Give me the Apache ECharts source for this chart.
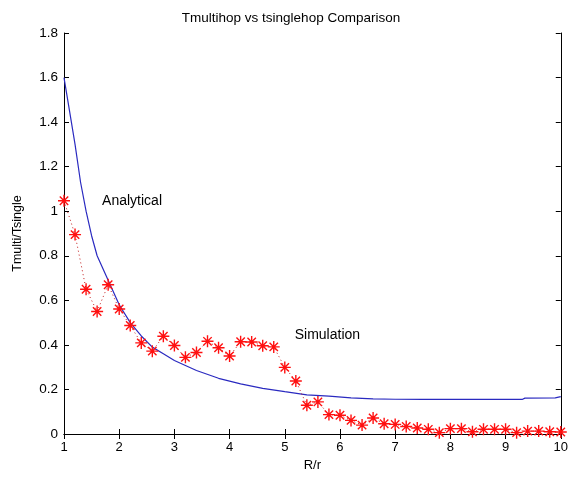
<!DOCTYPE html>
<html><head><meta charset="utf-8">
<script src="https://cdn.jsdelivr.net/npm/echarts@6/dist/echarts.min.js"></script>
<style>html,body{margin:0;padding:0;background:#fff}#c{width:571px;height:477px}</style>
</head><body><div id="c"></div>
<script>
var xTicks = [1,2,3,4,5,6,7,8,9,10];
var yTicks = [0,0.2,0.4,0.6,0.8,1,1.2,1.4,1.6,1.8];

var simX = [1,1.2,1.4,1.6,1.8,2,2.2,2.4,2.6,2.8,3,3.2,3.4,3.6,3.8,4,4.2,4.4,4.6,4.8,5,5.2,5.4,5.6,5.8,6,6.2,6.4,6.6,6.8,7,7.2,7.4,7.6,7.8,8,8.2,8.4,8.6,8.8,9,9.2,9.4,9.6,9.8,10];
var simY = [1.047,0.895,0.65,0.55,0.67,0.561,0.487,0.409,0.372,0.439,0.397,0.344,0.366,0.416,0.387,0.35,0.414,0.413,0.396,0.391,0.299,0.238,0.129,0.144,0.087,0.084,0.061,0.04,0.072,0.046,0.043,0.034,0.027,0.021,0.006,0.024,0.024,0.01,0.021,0.021,0.021,0.006,0.013,0.013,0.01,0.009];

var anaX = [1,1.1,1.2,1.3,1.4,1.5,1.6,1.8,2,2.2,2.4,2.6,2.8,3,3.4,3.8,4.2,4.6,5,5.4,5.8,6.2,6.6,7,7.5,8,8.5,9,9.3,9.35,9.9,10];
var anaY = [1.60,1.45,1.30,1.13,1.0,0.89,0.80,0.69,0.58,0.50,0.44,0.39,0.36,0.33,0.285,0.25,0.225,0.205,0.19,0.176,0.17,0.162,0.158,0.156,0.155,0.155,0.155,0.155,0.155,0.161,0.162,0.168];

var labels = [
  {text:'Analytical', x:1.69, y:1.04},
  {text:'Simulation', x:5.18, y:0.44}
];

function pairs(xs, ys){ return xs.map(function(v,i){return [v, ys[i]];}); }

var chart = echarts.init(document.getElementById('c'));
var font = 'Liberation Sans, Arial, sans-serif';
var axisCommon = {
  axisLine:{show:true,lineStyle:{color:'#000',width:1}},
  axisTick:{show:true,inside:true,length:5,lineStyle:{color:'#000'}},
  splitLine:{show:false}
};
var star = 'path://M0,-10L0,10M-10,0L10,0M-7,-7L7,7M-7,7L7,-7';
chart.setOption({
  animation:false,
  title:{text:'Tmultihop vs tsinglehop Comparison',left:286,top:6,textAlign:'center',
    textStyle:{fontFamily:font,fontSize:13.5,fontWeight:'normal',color:'#000'}},
  grid:{left:64,right:9,top:33,bottom:39},
  xAxis:[
    Object.assign({type:'value',min:1,max:10,interval:1,position:'bottom',
      name:'R/r',nameLocation:'middle',nameGap:25,
      nameTextStyle:{fontFamily:font,fontSize:13,color:'#000'},
      axisLabel:{fontFamily:font,fontSize:13,color:'#000',margin:7,
        formatter:function(v){return String(v);}}}, axisCommon),
    Object.assign({type:'value',min:1,max:10,interval:1,position:'top',axisLabel:{show:false}}, axisCommon)
  ],
  yAxis:[
    Object.assign({type:'value',min:0,max:1.8,interval:0.2,position:'left',
      name:'Tmulti/Tsingle',nameLocation:'middle',nameGap:40,
      nameTextStyle:{fontFamily:font,fontSize:12.5,color:'#000'},
      axisLabel:{fontFamily:font,fontSize:13.5,color:'#000',margin:6,
        formatter:function(v){return String(Math.round(v*10)/10);}}}, axisCommon),
    Object.assign({type:'value',min:0,max:1.8,interval:0.2,position:'right',axisLabel:{show:false}}, axisCommon)
  ],
  series:[
    {type:'line',name:'Analytical',data:pairs(anaX,anaY),showSymbol:false,smooth:false,
      lineStyle:{color:'#2a2ac0',width:1.2},z:3},
    {type:'line',name:'Simulation',data:pairs(simX,simY),symbol:star,symbolSize:12,showSymbol:true,
      lineStyle:{color:'#c01818',width:1,type:[1,3]},
      itemStyle:{color:'none',borderColor:'#ff1010',borderWidth:1.4},z:4}
  ]
});
var g = labels.map(function(l){
  var p = chart.convertToPixel({gridIndex:0}, [l.x, l.y]);
  return {type:'text',left:p[0],top:p[1]-8,style:{text:l.text,font:'14px '+font,fill:'#000'}};
});
chart.setOption({graphic:g});
</script></body></html>
